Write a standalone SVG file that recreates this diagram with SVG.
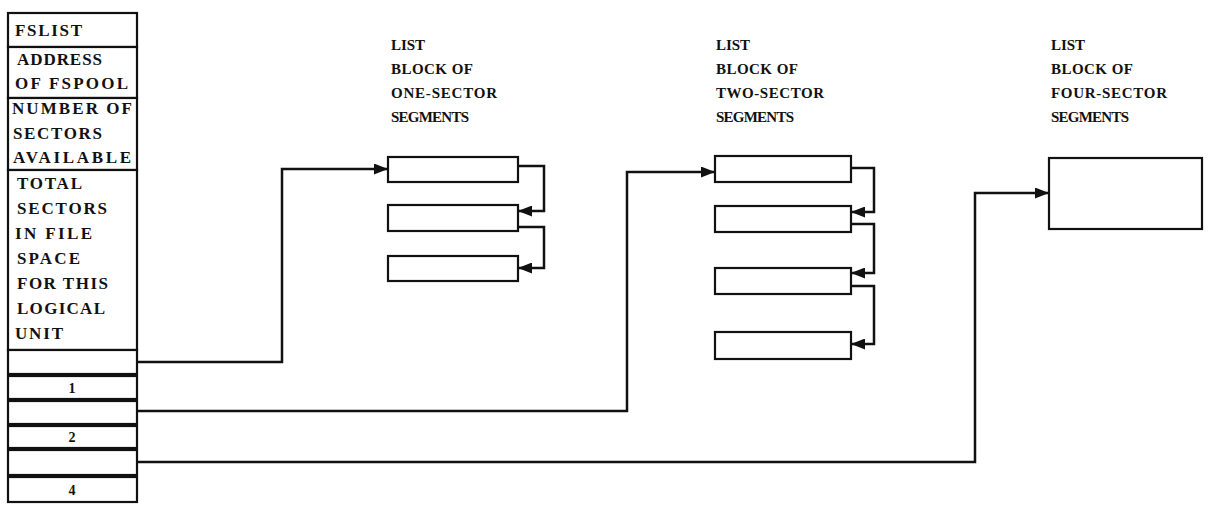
<svg xmlns="http://www.w3.org/2000/svg" width="1209" height="508" viewBox="0 0 1209 508">
<style>
.t{font-family:"Liberation Serif","Times New Roman",serif;font-weight:bold;font-size:17px;fill:#111;}
.h{font-family:"Liberation Serif","Times New Roman",serif;font-weight:bold;font-size:15px;fill:#111;}
.n{font-family:"Liberation Serif","Times New Roman",serif;font-weight:bold;font-size:14px;fill:#111;text-anchor:middle;}
.b{fill:#fff;stroke:#111;stroke-width:2.2;}
.c{fill:none;stroke:#111;stroke-width:2.5;}
</style>
<defs>
<marker id="ah" viewBox="0 0 14 11" refX="14" refY="5.5" markerWidth="14" markerHeight="11" markerUnits="userSpaceOnUse" orient="auto">
<path d="M0,0 L14,5.5 L0,11 Z" fill="#111"/>
</marker>
</defs>
<rect width="1209" height="508" fill="#fff"/>

<g id="fslist-table">
<rect class="b" x="8" y="13" width="129" height="34"/>
<text class="t" x="15" y="36" textLength="67" lengthAdjust="spacing">FSLIST</text>
<rect class="b" x="8" y="47" width="129" height="51"/>
<text class="t" x="17" y="65" textLength="85" lengthAdjust="spacing">ADDRESS</text>
<text class="t" x="15" y="89" textLength="113" lengthAdjust="spacing">OF FSPOOL</text>
<rect class="b" x="8" y="98" width="129" height="72"/>
<text class="t" x="12" y="114" textLength="120" lengthAdjust="spacing">NUMBER OF</text>
<text class="t" x="13" y="139" textLength="89" lengthAdjust="spacing">SECTORS</text>
<text class="t" x="13" y="163" textLength="118" lengthAdjust="spacing">AVAILABLE</text>
<rect class="b" x="8" y="170" width="129" height="180"/>
<text class="t" x="17" y="189" textLength="65" lengthAdjust="spacing">TOTAL</text>
<text class="t" x="17" y="214" textLength="90" lengthAdjust="spacing">SECTORS</text>
<text class="t" x="15" y="239" textLength="77" lengthAdjust="spacing">IN FILE</text>
<text class="t" x="17" y="264" textLength="63" lengthAdjust="spacing">SPACE</text>
<text class="t" x="17" y="289" textLength="91" lengthAdjust="spacing">FOR THIS</text>
<text class="t" x="17" y="314" textLength="88" lengthAdjust="spacing">LOGICAL</text>
<text class="t" x="15" y="339" textLength="48" lengthAdjust="spacing">UNIT</text>
</g>

<g id="entry-1-ptr"><rect class="b" x="8" y="350" width="129" height="24"/></g>
<g id="entry-1-size"><rect class="b" x="8" y="376" width="129" height="23"/><text class="n" x="72" y="393">1</text></g>
<g id="entry-2-ptr"><rect class="b" x="8" y="401" width="129" height="23"/></g>
<g id="entry-2-size"><rect class="b" x="8" y="426" width="129" height="22"/><text class="n" x="72" y="442">2</text></g>
<g id="entry-3-ptr"><rect class="b" x="8" y="450" width="129" height="25"/></g>
<g id="entry-3-size"><rect class="b" x="8" y="477" width="129" height="25"/><text class="n" x="72" y="495">4</text></g>

<g id="label-one">
<text class="h" x="391" y="50" textLength="34" lengthAdjust="spacing">LIST</text>
<text class="h" x="391" y="74" textLength="82" lengthAdjust="spacing">BLOCK OF</text>
<text class="h" x="391" y="98" textLength="106" lengthAdjust="spacing">ONE-SECTOR</text>
<text class="h" x="391" y="122" textLength="78" lengthAdjust="spacing">SEGMENTS</text>
</g>
<g id="label-two">
<text class="h" x="716" y="50" textLength="34" lengthAdjust="spacing">LIST</text>
<text class="h" x="716" y="74" textLength="82" lengthAdjust="spacing">BLOCK OF</text>
<text class="h" x="716" y="98" textLength="108" lengthAdjust="spacing">TWO-SECTOR</text>
<text class="h" x="716" y="122" textLength="78" lengthAdjust="spacing">SEGMENTS</text>
</g>
<g id="label-four">
<text class="h" x="1051" y="50" textLength="34" lengthAdjust="spacing">LIST</text>
<text class="h" x="1051" y="74" textLength="82" lengthAdjust="spacing">BLOCK OF</text>
<text class="h" x="1051" y="98" textLength="116" lengthAdjust="spacing">FOUR-SECTOR</text>
<text class="h" x="1051" y="122" textLength="78" lengthAdjust="spacing">SEGMENTS</text>
</g>

<g id="one-sector-1"><rect class="b" x="388" y="157" width="130" height="25"/></g>
<g id="one-sector-2"><rect class="b" x="388" y="205" width="130" height="26"/></g>
<g id="one-sector-3"><rect class="b" x="388" y="256" width="130" height="25"/></g>

<g id="two-sector-1"><rect class="b" x="715" y="156" width="136" height="26"/></g>
<g id="two-sector-2"><rect class="b" x="715" y="206" width="136" height="26"/></g>
<g id="two-sector-3"><rect class="b" x="715" y="268" width="136" height="26"/></g>
<g id="two-sector-4"><rect class="b" x="715" y="332" width="136" height="27"/></g>

<g id="four-sector-1"><rect class="b" x="1049" y="158" width="153" height="71"/></g>

<g id="connectors">
<path class="c" d="M137,362 H282 V169 H388" marker-end="url(#ah)"/>
<path class="c" d="M137,411 H627 V172 H715" marker-end="url(#ah)"/>
<path class="c" d="M137,462 H975 V193 H1049" marker-end="url(#ah)"/>
<path class="c" d="M518,166 H544 V211 H518" marker-end="url(#ah)"/>
<path class="c" d="M518,227 H544 V268 H518" marker-end="url(#ah)"/>
<path class="c" d="M851,168 H874 V212 H851" marker-end="url(#ah)"/>
<path class="c" d="M851,224 H874 V273 H851" marker-end="url(#ah)"/>
<path class="c" d="M851,286 H874 V344 H851" marker-end="url(#ah)"/>
</g>
</svg>
